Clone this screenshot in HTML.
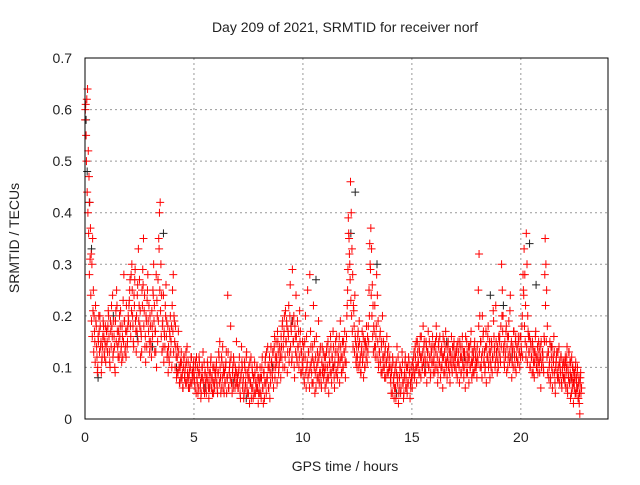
<!DOCTYPE html>
<html><head><meta charset="utf-8"><style>
body{margin:0;background:#fff}
svg text{font-family:"Liberation Sans",sans-serif;font-size:14px;fill:#222}
</style></head><body>
<svg id="chart" width="640" height="480" xmlns="http://www.w3.org/2000/svg">
<rect width="640" height="480" fill="#fff"/>
<g id="grid"></g>
<g id="marks"></g>
<rect x="85" y="58" width="523" height="361" fill="none" stroke="#000" stroke-width="1"/>
<g id="ticks"></g>
<text x="345" y="32" text-anchor="middle">Day 209 of 2021, SRMTID for receiver norf</text>
<text x="345" y="471" text-anchor="middle">GPS time / hours</text>
<text transform="translate(19,238) rotate(-90)" text-anchor="middle">SRMTID / TECUs</text>
</svg>
<script>
const xTicks=[0,5,10,15,20];
const yTicks=[0,0.1,0.2,0.3,0.4,0.5,0.6,0.7];
const yTickLabels=["0","0.1","0.2","0.3","0.4","0.5","0.6","0.7"];
const hourStarts=[0,1,2,3,4,5,6,7,8,9,10,11,12,13,14,15,16,17,18,19,20,21,22];
const hourSpans=[1,1,1,1,1,1,1,1,1,1,1,1,1,1,1,1,1,1,1,1,1,1,0.8];
const redHourly=[
[60,55,62,64,52,47,42,37,32,30,35,25,20,15,22,18,12,10,15,17,20,14,9,12,16,18,13,15,11,17],
[15,18,20,13,10,17,22,16,12,19,14,9,21,25,17,12,15,20,18,13,11,16,23,28,19,14,12,17,15,20],
[22,25,18,28,30,20,15,24,27,19,13,17,26,33,22,18,12,16,25,29,35,21,14,11,19,23,28,17,15,20],
[15,12,18,25,30,22,17,13,10,20,27,35,40,42,30,24,18,14,11,16,22,26,19,13,9,12,17,20,15,10],
[25,28,20,15,18,12,9,14,17,10,7,11,13,8,6,10,12,9,7,11,14,8,6,9,10,7,12,9,8,11],
[8,6,10,12,7,5,9,11,6,4,8,10,13,7,5,9,6,8,11,7,4,6,9,12,8,5,7,10,6,9],
[10,7,5,9,12,15,8,6,11,14,9,5,7,10,13,8,24,6,9,11,18,7,5,10,12,8,6,9,15,7],
[6,9,12,5,8,14,10,7,4,11,6,9,13,5,8,10,3,7,12,6,9,4,8,11,5,7,10,6,3,8],
[5,8,4,10,6,3,9,7,12,5,8,14,6,10,4,7,11,9,13,6,14,8,10,12,7,15,9,11,13,8],
[14,18,10,16,20,12,15,19,9,17,22,13,26,18,11,29,15,20,8,16,24,12,19,14,10,21,17,13,9,15],
[12,8,15,20,6,10,25,13,9,28,17,11,7,14,22,10,5,12,16,8,11,19,7,13,9,6,14,10,8,12],
[6,10,13,8,15,5,11,9,14,7,12,17,10,6,13,9,16,8,11,14,7,19,12,9,15,10,13,17,8,11],
[20,25,39,35,30,46,40,33,28,22,18,24,15,12,10,16,14,19,11,9,13,17,12,8,15,10,14,18,11,13],
[15,20,30,37,33,26,22,18,14,12,16,28,24,19,11,13,17,9,15,20,10,12,8,14,11,16,13,9,10,12],
[8,5,10,12,7,4,9,6,11,14,8,3,6,10,5,9,13,7,4,8,11,6,10,5,7,12,9,4,6,8],
[6,9,12,8,14,10,7,15,11,9,13,16,8,12,10,18,14,9,11,15,7,13,17,10,12,8,14,11,16,9],
[12,9,15,18,10,7,14,11,16,8,13,10,6,12,15,9,17,11,8,14,10,13,7,11,16,9,12,14,10,13],
[10,13,8,15,11,7,14,9,12,16,10,8,13,6,11,15,9,12,7,14,10,17,8,11,13,9,15,12,10,8],
[12,25,32,20,15,10,8,13,17,11,9,14,7,12,16,10,13,8,11,15,9,12,19,14,10,22,13,9,11,16],
[15,12,18,30,25,20,14,10,13,17,9,16,12,19,11,24,14,8,13,10,17,12,15,9,14,11,16,13,10,12],
[14,18,12,25,33,28,22,36,30,20,16,13,10,15,12,9,14,11,8,13,17,10,12,9,15,11,14,6,10,13],
[12,9,15,35,30,25,18,13,8,11,7,14,10,6,12,16,9,5,11,13,8,10,14,7,9,12,6,10,8,11],
[8,12,6,10,14,5,9,13,7,11,4,8,12,6,10,3,7,9,5,11,8,6,10,4,7,3,1,8,5,6]
];
const redHourly2=[
[58,61,50,44,40,36,28,31,24,19,16,21,13,17,11,19,14,9,16,20,13,18,15,11,14,19,16,12,18,14],
[17,13,21,16,11,19,14,18,24,13,16,10,19,15,22,14,17,12,16,21,14,18,12,15,19,13,17,22,14,18],
[19,23,27,16,21,25,18,14,22,29,17,20,24,15,19,27,21,17,13,22,26,18,24,16,20,14,25,19,22,13],
[18,14,21,16,24,19,13,17,28,23,15,19,33,25,21,16,13,19,24,17,14,20,16,12,18,14,11,16,13,18],
[22,17,13,19,10,14,8,12,9,13,7,10,8,11,9,6,12,8,10,13,7,9,11,8,6,10,12,7,9,10],
[9,7,11,5,8,10,6,12,9,7,5,10,8,6,11,9,7,5,8,10,6,9,7,11,6,8,10,5,7,9],
[8,11,6,9,13,7,10,5,12,8,6,10,9,7,11,5,8,13,6,10,8,12,7,9,6,11,8,10,7,9],
[8,6,10,7,4,9,11,6,8,5,10,7,12,6,9,5,8,11,7,4,10,6,8,5,9,7,6,10,8,5],
[7,10,5,8,12,6,9,4,11,7,13,8,10,6,12,9,14,11,8,13,10,16,12,15,11,17,13,10,14,12],
[16,12,19,14,17,10,21,15,18,13,16,11,20,14,17,12,19,15,10,18,13,16,11,14,17,12,15,9,13,11],
[10,14,7,12,9,16,11,8,13,6,10,14,9,12,7,11,15,9,6,10,13,8,12,9,14,7,11,9,13,10],
[9,12,7,14,10,8,13,11,16,9,12,10,14,8,11,15,9,13,10,12,16,11,14,9,12,10,15,13,11,14],
[16,22,29,36,32,27,23,20,17,14,21,13,16,11,14,12,17,10,15,12,9,14,11,16,13,10,15,12,14,16],
[18,25,34,29,24,20,16,13,17,22,14,18,12,15,10,13,16,11,14,9,12,15,10,13,8,11,9,12,14,10],
[10,7,9,5,11,8,6,10,4,9,7,12,5,8,10,6,9,11,7,5,9,12,8,6,10,7,11,9,7,10],
[8,11,10,13,9,12,15,10,13,11,14,9,12,16,10,13,11,15,12,9,14,11,13,10,15,12,9,13,11,14],
[11,14,10,13,16,12,9,15,11,13,10,14,12,16,9,13,11,14,10,12,15,11,9,13,12,10,14,11,15,12],
[12,9,14,11,13,10,15,12,9,14,11,13,10,12,16,9,13,11,14,12,10,15,11,13,9,12,14,10,13,11],
[14,11,18,13,10,15,12,20,16,11,13,10,17,14,12,18,11,15,13,10,14,12,21,16,13,11,15,12,14,10],
[13,16,11,14,20,17,13,11,15,12,18,14,10,16,13,21,12,15,11,14,17,13,10,16,12,14,11,15,13,16],
[16,13,20,28,24,18,15,12,14,11,17,13,16,10,14,12,15,9,13,11,16,12,10,14,11,13,9,12,15,11],
[13,10,16,28,22,15,12,9,13,10,15,8,12,14,9,11,13,7,10,12,9,13,8,11,10,12,7,9,11,8],
[10,7,11,9,12,6,10,8,13,7,9,11,5,8,10,7,9,6,8,10,5,7,9,6,4,8,5,7,9,6]
];
const blackTimes=[0.05,0.1,0.2,0.3,0.6,1.3,2.4,3.1,3.6,4.2,5.5,6.8,7.4,8.6,9.5,10.6,11.4,12.2,12.4,13.4,14.3,15.6,16.6,17.4,18.6,19.2,19.6,20.4,20.7,21.4,22.3];
const blackValues=[0.58,0.48,0.42,0.33,0.08,0.2,0.16,0.14,0.36,0.1,0.06,0.07,0.04,0.1,0.19,0.27,0.1,0.36,0.44,0.3,0.05,0.1,0.15,0.12,0.24,0.22,0.12,0.34,0.26,0.14,0.08];
const X=t=>85+t*(523/24), Y=v=>419-v*(361/0.7);
const NS="http://www.w3.org/2000/svg";
const grid=document.getElementById('grid'),ticks=document.getElementById('ticks'),marks=document.getElementById('marks');
function mk(tag,attrs,parent){const e=document.createElementNS(NS,tag);for(const k in attrs)e.setAttribute(k,attrs[k]);parent.appendChild(e);return e;}
xTicks.forEach(t=>{
 if(t>0){const g=mk('line',{x1:X(t),x2:X(t),y1:58,y2:419,stroke:'#999','stroke-dasharray':'2,3'},grid);
 
 }
 const l=mk('text',{x:X(t),y:442,'text-anchor':'middle'},ticks);l.textContent=t;
 
 
});
yTicks.forEach((v,i)=>{
 if(v>0&&v<0.7){const g=mk('line',{x1:85,x2:608,y1:Y(v),y2:Y(v),stroke:'#999','stroke-dasharray':'2,3'},grid);
 
 }
 const l=mk('text',{x:72,y:Y(v)+5,'text-anchor':'end'},ticks);l.textContent=yTickLabels[i];
 
 
});
function plus(t,v,c,name){
 const x=X(t),y=Y(v);
 const p=mk('path',{d:`M${x-4} ${y}h8M${x} ${y-4}v8`,stroke:c,'stroke-width':1,fill:'none'},marks);
 
 
}
blackTimes.forEach((t,i)=>plus(t,blackValues[i],'#222','black-point'));
redHourly.forEach((vals,h)=>{
 vals.forEach((v,i)=>plus(hourStarts[h]+hourSpans[h]*(i+0.5)/vals.length,v/100,'#f00','red-point'));
});
redHourly2.forEach((vals,h)=>{
 vals.forEach((v,i)=>plus(hourStarts[h]+hourSpans[h]*i/vals.length,v/100,'#f00','red-point'));
});
</script>
</body></html>
